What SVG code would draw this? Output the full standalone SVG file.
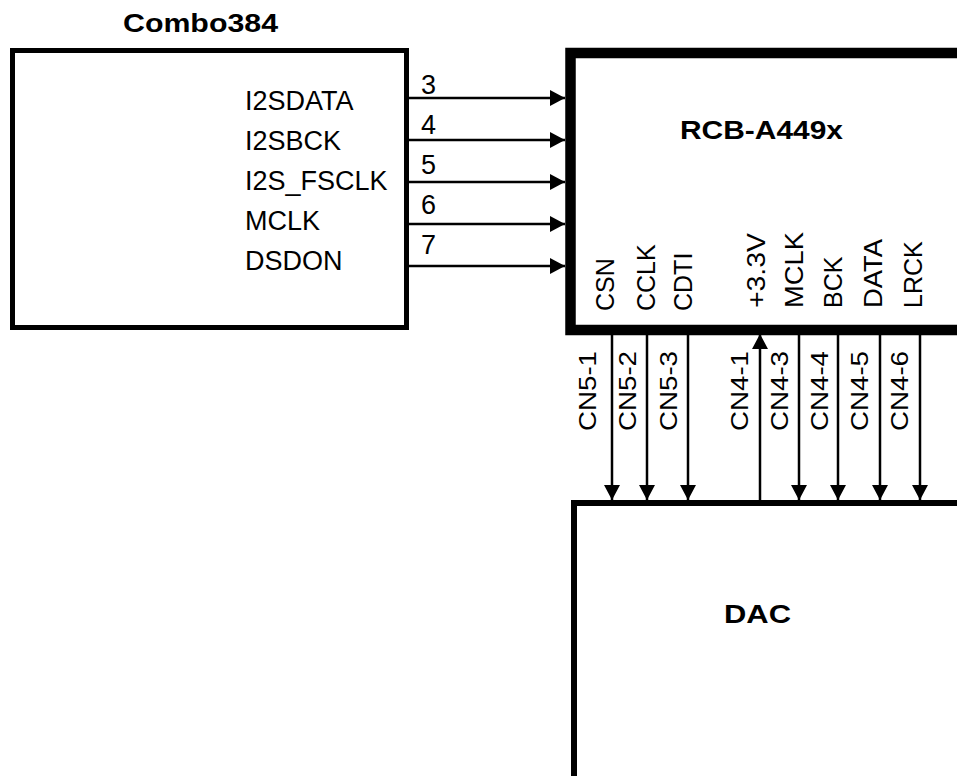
<svg xmlns="http://www.w3.org/2000/svg" width="957" height="776" viewBox="0 0 957 776">
<defs>
<marker id="ah" markerWidth="15" markerHeight="16" refX="15" refY="8" orient="auto" markerUnits="userSpaceOnUse">
<path d="M0,0 L15,8 L0,16 z" fill="#000"/>
</marker>
</defs>
<style>
.box{fill:#fff;stroke:#000}
.t{font-family:"Liberation Sans",Arial,sans-serif;fill:#000}
.b{font-weight:bold;font-size:25px}
.r{font-size:27px}
.v{font-size:25px}
.c{font-size:23px}
.w{stroke:#000;stroke-width:2.5;fill:none;marker-end:url(#ah)}
</style>
<rect width="957" height="776" fill="#fff"/>
<g id="combo384">
<rect class="box" x="12.5" y="50.5" width="394" height="277" stroke-width="5"/>
<text class="t b" x="123" y="32" textLength="155" lengthAdjust="spacingAndGlyphs">Combo384</text>
<text class="t r" x="245" y="110">I2SDATA</text>
<text class="t r" x="245" y="150">I2SBCK</text>
<text class="t r" x="245" y="190">I2S_FSCLK</text>
<text class="t r" x="245" y="230">MCLK</text>
<text class="t r" x="245" y="270">DSDON</text>
</g>
<g id="rcb">
<rect class="box" x="570.5" y="53" width="420" height="277" stroke-width="10.5"/>
<text class="t b" x="680" y="139" textLength="163" lengthAdjust="spacingAndGlyphs">RCB-A449x</text>
<text class="t v" transform="translate(614,311) rotate(-90)">CSN</text>
<text class="t v" transform="translate(655,311) rotate(-90)">CCLK</text>
<text class="t v" transform="translate(692,311) rotate(-90)">CDTI</text>
<text class="t v" transform="translate(765,308) rotate(-90)" textLength="75" lengthAdjust="spacingAndGlyphs">+3.3V</text>
<text class="t v" transform="translate(803,308) rotate(-90)" textLength="76" lengthAdjust="spacingAndGlyphs">MCLK</text>
<text class="t v" transform="translate(842,308) rotate(-90)">BCK</text>
<text class="t v" transform="translate(882,308) rotate(-90)" textLength="69" lengthAdjust="spacingAndGlyphs">DATA</text>
<text class="t v" transform="translate(922,308) rotate(-90)">LRCK</text>
</g>
<g id="dac">
<rect class="box" x="574" y="503" width="420" height="300" stroke-width="6"/>
<text class="t b" x="724" y="623" textLength="67" lengthAdjust="spacingAndGlyphs">DAC</text>
</g>
<g id="connectors">
<line class="w" x1="406" y1="98" x2="565" y2="98"/>
<line class="w" x1="406" y1="140" x2="565" y2="140"/>
<line class="w" x1="406" y1="182" x2="565" y2="182"/>
<line class="w" x1="406" y1="224" x2="565" y2="224"/>
<line class="w" x1="406" y1="266" x2="565" y2="266"/>
<text class="t r" x="421" y="94">3</text>
<text class="t r" x="421" y="134">4</text>
<text class="t r" x="421" y="174">5</text>
<text class="t r" x="421" y="214">6</text>
<text class="t r" x="421" y="254">7</text>
<line class="w" x1="612" y1="335" x2="612" y2="500"/>
<line class="w" x1="647" y1="335" x2="647" y2="500"/>
<line class="w" x1="688" y1="335" x2="688" y2="500"/>
<line class="w" x1="760" y1="500" x2="760" y2="334"/>
<line class="w" x1="799" y1="335" x2="799" y2="500"/>
<line class="w" x1="838" y1="335" x2="838" y2="500"/>
<line class="w" x1="880" y1="335" x2="880" y2="500"/>
<line class="w" x1="920" y1="335" x2="920" y2="500"/>
<text class="t c" text-anchor="middle" transform="translate(596,391) rotate(-90)" textLength="80" lengthAdjust="spacingAndGlyphs">CN5-1</text>
<text class="t c" text-anchor="middle" transform="translate(636,391) rotate(-90)" textLength="80" lengthAdjust="spacingAndGlyphs">CN5-2</text>
<text class="t c" text-anchor="middle" transform="translate(677,391) rotate(-90)" textLength="80" lengthAdjust="spacingAndGlyphs">CN5-3</text>
<text class="t c" text-anchor="middle" transform="translate(748,391) rotate(-90)" textLength="80" lengthAdjust="spacingAndGlyphs">CN4-1</text>
<text class="t c" text-anchor="middle" transform="translate(788,391) rotate(-90)" textLength="80" lengthAdjust="spacingAndGlyphs">CN4-3</text>
<text class="t c" text-anchor="middle" transform="translate(828,391) rotate(-90)" textLength="80" lengthAdjust="spacingAndGlyphs">CN4-4</text>
<text class="t c" text-anchor="middle" transform="translate(868,391) rotate(-90)" textLength="80" lengthAdjust="spacingAndGlyphs">CN4-5</text>
<text class="t c" text-anchor="middle" transform="translate(908,391) rotate(-90)" textLength="80" lengthAdjust="spacingAndGlyphs">CN4-6</text>
</g>
</svg>
